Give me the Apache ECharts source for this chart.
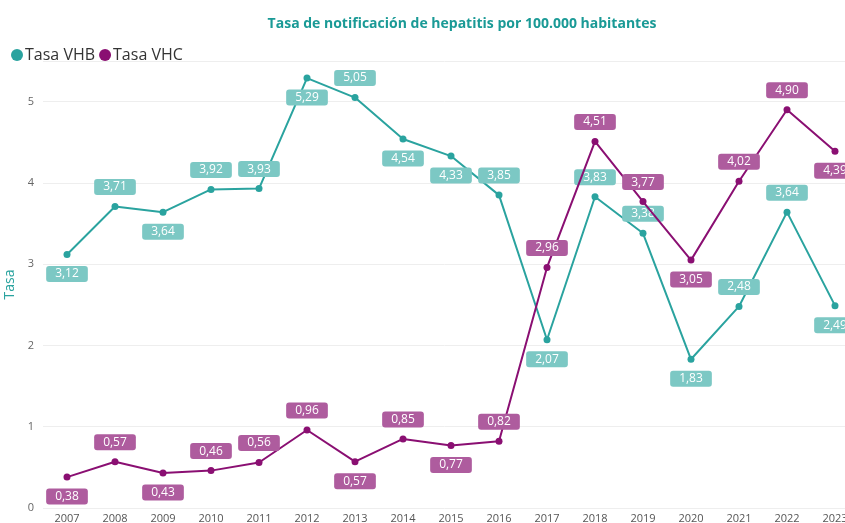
<!DOCTYPE html>
<html>
<head>
<meta charset="utf-8">
<script src="https://cdn.jsdelivr.net/npm/echarts@6/dist/echarts.min.js"></script>
<style>
  html, body { margin: 0; padding: 0; background: #fff; }
  #main { width: 845px; height: 523px; }
</style>
</head>
<body>
<div id="main"></div>
<script>
// datos
var years = ['2007','2008','2009','2010','2011','2012','2013','2014','2015','2016','2017','2018','2019','2020','2021','2022','2023'];
var tasaVHB = [3.12, 3.71, 3.64, 3.92, 3.93, 5.29, 5.05, 4.54, 4.33, 3.85, 2.07, 3.83, 3.38, 1.83, 2.48, 3.64, 2.49];
var tasaVHC = [0.38, 0.57, 0.43, 0.46, 0.56, 0.96, 0.57, 0.85, 0.77, 0.82, 2.96, 4.51, 3.77, 3.05, 4.02, 4.90, 4.39];

// donde va cada etiqueta (arriba / abajo)
var posVHB = ['bottom','top','bottom','top','top','bottom','top','bottom','bottom','top','bottom','top','top','bottom','top','top','bottom'];
var posVHC = ['bottom','top','bottom','top','top','top','bottom','top','bottom','top','top','top','top','bottom','top','top','bottom'];

var tealLine = '#2AA39F', tealBox = '#7CC8C4';
var purpLine = '#8A0F72', purpBox = '#AE5C9E';

function fmt(v) { return v.toFixed(2).replace('.', ','); }

function buildData(vals, pos) {
  return vals.map(function (v, i) {
    return { value: v, label: { position: pos[i] } };
  });
}

function labelStyle(bg) {
  return {
    show: true,
    distance: 8,
    color: '#fff',
    fontSize: 12,
    fontFamily: 'Open Sans',
    backgroundColor: bg,
    borderRadius: 3,
    padding: [2, 9, 2, 9],
    formatter: function (p) { return fmt(p.value); }
  };
}

var chart = echarts.init(document.getElementById('main'), null, { renderer: 'canvas' });

chart.setOption({
  animation: false,
  title: {
    text: 'Tasa de notificación de hepatitis por 100.000 habitantes',
    left: 457, textAlign: 'center', top: 12,
    textStyle: { color: '#1A9A96', fontSize: 14, fontWeight: 'bold', fontFamily: 'Open Sans' }
  },
  legend: {
    left: 6, top: 42,
    icon: 'circle', itemWidth: 12, itemHeight: 12, itemGap: 4,
    textStyle: { fontSize: 16, color: '#333', fontFamily: 'Open Sans', padding: [0, 0, 0, -3] },
    data: ['Tasa VHB', 'Tasa VHC']
  },
  grid: { left: 43, top: 61, width: 816, bottom: 15, outerBoundsMode: 'none' },
  xAxis: {
    type: 'category',
    data: years,
    boundaryGap: true,
    axisLine: { show: false },
    axisTick: { show: false },
    axisLabel: { color: '#555', fontSize: 11, margin: 5, fontFamily: 'Open Sans' }
  },
  yAxis: {
    type: 'value',
    min: 0, max: 5.5, interval: 1,
    name: 'Tasa', nameLocation: 'middle', nameGap: 25,
    nameTextStyle: { color: '#2AA39F', fontSize: 14, fontFamily: 'Open Sans' },
    axisLabel: { color: '#666', fontSize: 11, margin: 9, fontFamily: 'Open Sans',
      formatter: function (v) { return v % 1 === 0 ? v : ''; } },
    splitLine: { lineStyle: { color: '#EEEEEE', width: 1 } }
  },
  series: [
    {
      name: 'Tasa VHB', type: 'line',
      data: buildData(tasaVHB, posVHB),
      color: tealLine,
      symbol: 'circle', symbolSize: 7,
      lineStyle: { width: 2, color: tealLine },
      itemStyle: { color: tealLine },
      label: labelStyle(tealBox),
      z: 3
    },
    {
      name: 'Tasa VHC', type: 'line',
      data: buildData(tasaVHC, posVHC),
      color: purpLine,
      symbol: 'circle', symbolSize: 7,
      lineStyle: { width: 2, color: purpLine },
      itemStyle: { color: purpLine },
      label: labelStyle(purpBox),
      z: 4
    }
  ]
});
</script>
</body>
</html>
